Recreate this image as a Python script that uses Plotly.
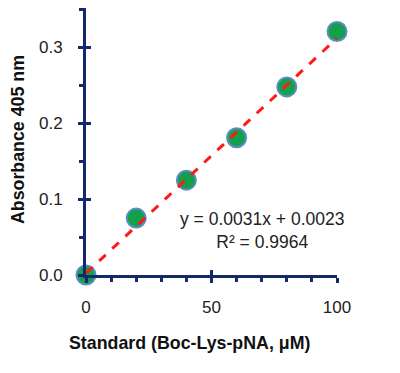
import plotly.graph_objects as go

concentration = [0, 20, 40, 60, 80, 100]
absorbance = [0.0, 0.075, 0.125, 0.181, 0.248, 0.321]
slope = 0.0031
intercept = 0.0023
r_squared = 0.9964
fit_x = [0, 100]
fit_y = [slope * v + intercept for v in fit_x]

x_tickvals = [0, 50, 100]
x_ticktext = ["0", "50", "100"]
y_tickvals = [0.0, 0.1, 0.2, 0.3]
y_ticktext = ["0.0", "0.1", "0.2", "0.3"]

AXIS = "#13296b"
FONT = "Liberation Sans, Arial, sans-serif"

# page body adds an 8px offset, so margins are reduced accordingly
L, T, W, H = 78, 0, 251, 267

fig = go.Figure()
fig.add_trace(go.Scatter(
    x=concentration, y=absorbance, mode="markers", cliponaxis=False,
    marker=dict(size=19, color="#12a04a", line=dict(color="#5b8cc4", width=2)),
    showlegend=False))
fig.add_trace(go.Scatter(
    x=fit_x, y=fit_y, mode="lines", cliponaxis=False,
    line=dict(color="#ff1a1a", width=3, dash="dash"),
    showlegend=False))
fig.add_trace(go.Scatter(x=[None], y=[None], xaxis="x2", yaxis="y2", showlegend=False))

common = dict(showgrid=False, zeroline=False)
fig.update_layout(
    width=400, height=373,
    margin=dict(l=L, r=400 - L - W, t=T, b=373 - T - H),
    paper_bgcolor="white", plot_bgcolor="white",
    font=dict(family=FONT, size=17, color="#222222"),
    xaxis=dict(range=[0, 100], tickvals=x_tickvals, ticktext=x_ticktext,
               showline=True, linecolor=AXIS, linewidth=3,
               ticks="outside", ticklen=5, tickwidth=3, tickcolor=AXIS,
               ticklabelstandoff=10,
               minor=dict(dtick=10, tick0=0, ticks="outside", ticklen=4, tickwidth=3, tickcolor=AXIS),
               **common),
    yaxis=dict(range=[0, 0.352], tickvals=y_tickvals, ticktext=y_ticktext,
               showline=True, linecolor=AXIS, linewidth=3,
               ticks="outside", ticklen=5, tickwidth=3, tickcolor=AXIS,
               ticklabelstandoff=12,
               minor=dict(dtick=0.05, tick0=0, ticks="outside", ticklen=4, tickwidth=3, tickcolor=AXIS),
               **common),
    xaxis2=dict(range=[0, 100], overlaying="x", tickvals=x_tickvals, showticklabels=False,
                ticks="inside", ticklen=5, tickwidth=3, tickcolor=AXIS, showline=False, **common),
    yaxis2=dict(range=[0, 0.352], overlaying="y", tickvals=y_tickvals, showticklabels=False,
                ticks="inside", ticklen=5, tickwidth=3, tickcolor=AXIS, showline=False, **common),
    annotations=[
        dict(xref="paper", yref="paper", x=0.703, y=0.165, xanchor="center", yanchor="middle",
             text=f"y = {slope}x + {intercept}<br>R² = {r_squared}", showarrow=False, align="center",
             font=dict(size=17.5, color="#222222")),
        dict(xref="paper", yref="paper", x=(188 - 85) / 251, y=-(343 - 275) / 267,
             xanchor="center", yanchor="middle", showarrow=False,
             text="<b>Standard (Boc-Lys-pNA, μM)</b>", font=dict(size=17.8, color="#111111")),
        dict(xref="paper", yref="paper", x=-(85 - 17) / 251, y=(275 - 140) / 267,
             xanchor="center", yanchor="middle", showarrow=False, textangle=-90,
             text="<b>Absorbance 405 nm</b>", font=dict(size=17.8, color="#111111")),
    ],
)
fig.write_html("out.html")
